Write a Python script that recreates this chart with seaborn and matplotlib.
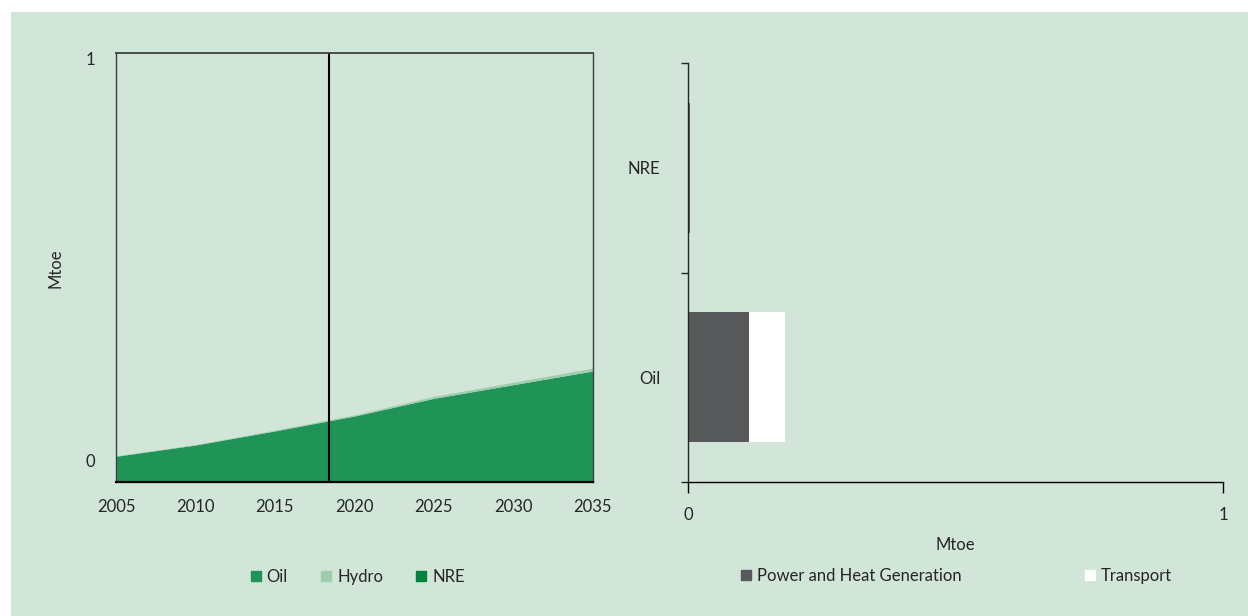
import matplotlib
matplotlib.use('Agg')
import matplotlib.pyplot as plt
import seaborn as sns
import pandas as pd
from matplotlib.lines import Line2D
from matplotlib.patches import Rectangle

# left panel: supply by source (Mtoe)
years = [2005, 2010, 2015, 2020, 2025, 2030, 2035]
oil = [0.011, 0.039, 0.074, 0.111, 0.155, 0.189, 0.223]
hydro = [0.001, 0.001, 0.002, 0.003, 0.005, 0.006, 0.007]
nre = [0.0, 0.0, 0.0, 0.0, 0.0, 0.0, 0.0]
split_year = 2018.4

# right panel: use by sector (Mtoe)
fuels = ['NRE', 'Oil']
power_heat = [0.003, 0.114]
transport = [0.0, 0.067]

BG = '#d1e5d8'
OIL_C = '#209456'
HYDRO_C = '#a0ccae'
NRE_C = '#00843d'
POWER_C = '#58595b'
TRANSPORT_C = '#ffffff'
TXT = '#262626'
FS = 12

sns.set_theme(style='white')
plt.rcParams['font.family'] = ['Lato', 'DejaVu Sans']
plt.rcParams['font.size'] = FS
plt.rcParams['text.color'] = TXT
plt.rcParams['xtick.color'] = TXT
plt.rcParams['ytick.color'] = TXT

fig = plt.figure(figsize=(12.48, 6.16), dpi=100)
fig.patch.set_facecolor('white')
fig.patches.append(Rectangle((11 / 1248, 0), 1, 1 - 12 / 616, transform=fig.transFigure,
                             facecolor=BG, edgecolor='none', zorder=-10))

# ---------- left: stacked area ----------
ax1 = fig.add_axes([0.0929, 0.2175, 0.3822, 0.6964])
ax1.set_facecolor(BG)
y_lo = -0.053
df = pd.DataFrame({'year': years, 'Oil': oil, 'Hydro': hydro, 'NRE': nre})
df['oil_top'] = df['Oil']
df['hydro_top'] = df['oil_top'] + df['Hydro']
df['nre_top'] = df['hydro_top'] + df['NRE']
ax1.fill_between(df['year'], y_lo, df['oil_top'], color=OIL_C, lw=0)
ax1.fill_between(df['year'], df['oil_top'], df['hydro_top'], color=HYDRO_C, lw=0)
ax1.fill_between(df['year'], df['hydro_top'], df['nre_top'], color=NRE_C, lw=0)
ax1.axvline(split_year, color='black', lw=1.5)

ax1.set_xlim(2005, 2035)
ax1.set_ylim(y_lo, 1.013)
ax1.set_xticks(range(2005, 2036, 5))
ax1.set_yticks([0, 1])
ax1.tick_params(axis='both', length=0, labelsize=FS)
ax1.tick_params(axis='x', pad=12)
ax1.tick_params(axis='y', pad=15)
for side in ['left', 'top', 'right']:
    ax1.spines[side].set_color('#404040')
    ax1.spines[side].set_linewidth(1.0)
ax1.spines['bottom'].set_color('black')
ax1.spines['bottom'].set_linewidth(1.6)
ax1.spines['top'].set_linewidth(1.3)
fig.text(55 / 1248, 1 - 268 / 616, 'Mtoe', rotation=90, ha='center', va='center', fontsize=FS)

h1 = [Line2D([], [], marker='s', ls='', color=c, markersize=7) for c in [OIL_C, HYDRO_C, NRE_C]]
fig.legend(h1, ['Oil', 'Hydro', 'NRE'], loc='center', bbox_to_anchor=(357 / 1248, 1 - 577 / 616),
           ncol=3, frameon=False, handletextpad=0.25, columnspacing=1.9, fontsize=FS,
           handlelength=0.8)

# ---------- right: stacked horizontal bars ----------
ax2 = fig.add_axes([0.5513, 0.2175, 0.4287, 0.6802])
ax2.set_facecolor(BG)
bars = pd.DataFrame({'fuel': fuels, 'power': power_heat, 'transport': transport})
bars['total'] = bars['power'] + bars['transport']
sns.barplot(data=bars, x='total', y='fuel', order=fuels, color=TRANSPORT_C, saturation=1,
            width=0.62, linewidth=0, orient='h', ax=ax2)
sns.barplot(data=bars, x='power', y='fuel', order=fuels, color=POWER_C, saturation=1,
            width=0.62, linewidth=0, orient='h', ax=ax2)
ax2.set_xlim(0, 1)
ax2.set_ylim(1.5, -0.5)
ax2.set_xticks([0, 1])
ax2.set_xlabel('')
ax2.set_ylabel('')
ax2.set_yticks([0, 1])
ax2.set_yticklabels(fuels)
ax2.set_yticks([-0.5, 0.5, 1.5], minor=True)
ax2.tick_params(axis='y', which='major', length=0, pad=20, labelsize=FS)
ax2.tick_params(axis='y', which='minor', length=5, width=1, color='#262626', direction='out', left=True)
ax2.tick_params(axis='x', length=8, width=1, color='black', direction='out', bottom=True, pad=10, labelsize=FS)
ax2.spines['top'].set_visible(False)
ax2.spines['right'].set_visible(False)
ax2.spines['left'].set_color('#262626')
ax2.spines['bottom'].set_color('black')
ax2.spines['left'].set_linewidth(1.0)
ax2.spines['bottom'].set_linewidth(1.0)
fig.text(955 / 1248, 1 - 545 / 616, 'Mtoe', ha='center', va='center', fontsize=FS)

h2 = [Line2D([], [], marker='s', ls='', color=c, markersize=7) for c in [POWER_C, TRANSPORT_C]]
fig.legend(h2, ['Power and Heat Generation', 'Transport'], loc='center',
           bbox_to_anchor=(956 / 1248, 1 - 576 / 616), ncol=2, frameon=False,
           handletextpad=0.25, columnspacing=7.3, fontsize=FS, handlelength=0.8)

fig.savefig('out.png', dpi=100, facecolor=fig.get_facecolor())
